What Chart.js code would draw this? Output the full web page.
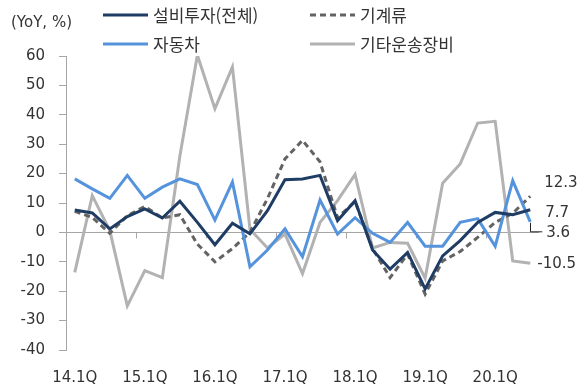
<!DOCTYPE html>
<html lang="ko">
<head>
<meta charset="UTF-8">
<title>설비투자 증가율</title>
<style>
  body { margin: 0; background: #fff; }
  canvas { display: block; }
</style>
</head>
<body>
<canvas id="chart" width="587" height="386"></canvas>
<script src="https://cdn.jsdelivr.net/npm/chart.js"></script>
<script>
// quarters 14.1Q .. 20.3Q
const quarters = ['14.1Q','14.2Q','14.3Q','14.4Q','15.1Q','15.2Q','15.3Q','15.4Q',
                  '16.1Q','16.2Q','16.3Q','16.4Q','17.1Q','17.2Q','17.3Q','17.4Q',
                  '18.1Q','18.2Q','18.3Q','18.4Q','19.1Q','19.2Q','19.3Q','19.4Q',
                  '20.1Q','20.2Q','20.3Q'];
const capex     = [7.6, 6.6, 1.2, 5.4, 8.0, 4.9, 10.6, 3.4, -4.2, 3.1, -0.5, 7.4, 17.9, 18.2,
                   19.4, 4.0, 10.8, -6.0, -12.5, -6.8, -19.2, -8.0, -2.8, 3.4, 6.8, 6.0, 7.7];
const machinery = [7.2, 5.1, -0.3, 5.7, 8.8, 4.9, 6.0, -4.0, -10.0, -5.5, 0.0, 11.5, 25.0, 31.3,
                   24.0, 5.0, 10.5, -5.5, -15.4, -7.4, -21.0, -9.7, -6.5, -1.7, 3.4, 6.5, 12.3];
const autos     = [18.2, 14.8, 11.6, 19.4, 11.6, 15.4, 18.2, 16.3, 4.2, 17.1, -11.7, -6.0, 1.2, -8.3,
                   11.0, -0.6, 5.0, -0.3, -3.4, 3.4, -4.7, -4.7, 3.4, 4.7, -4.7, 17.6, 3.6];
const otherTrans = [-13.6, 12.5, 0.6, -25.0, -13.0, -15.4, 26.0, 60.3, 42.1, 56.3, 1.1, -5.3, -0.6, -14.0,
                    3.4, 10.8, 19.7, -5.3, -3.4, -3.7, -15.6, 16.7, 23.3, 37.2, 37.8, -9.7, -10.5];
const yTicks = [60, 50, 40, 30, 20, 10, 0, -10, -20, -30, -40];

const NUM_FONT = 'DejaVu Sans, sans-serif';
const KR_FONT = '"Noto Sans CJK KR", "Noto Sans", sans-serif';

// legend, zero line and end labels drawn on the canvas
const decorations = {
    id: 'decorations',
    beforeDatasetsDraw(chart) {
        const { ctx, chartArea, scales } = chart;
        const y0 = scales.y.getPixelForValue(0);
        const w = (chartArea.right - chartArea.left) / quarters.length;
        ctx.save();
        ctx.strokeStyle = '#a6a6a6';
        ctx.lineWidth = 1;
        ctx.beginPath();
        ctx.moveTo(chartArea.left, Math.round(y0) + 0.5);
        ctx.lineTo(chartArea.right, Math.round(y0) + 0.5);
        for (let i = 4; i < quarters.length; i += 4) {
            const x = Math.round(chartArea.left + i * w) + 0.5;
            ctx.moveTo(x, y0);
            ctx.lineTo(x, y0 + 6);
        }
        ctx.stroke();
        ctx.restore();
    },
    afterDraw(chart) {
        const { ctx } = chart;
        ctx.save();
        ctx.fillStyle = '#333';
        ctx.textBaseline = 'middle';
        ctx.font = '15px ' + NUM_FONT;
        ctx.fillText('(YoY, %)', 11, 23);

        const legendPos = [[103, 15], [310, 15], [103, 44], [310, 44]];
        chart.data.datasets.forEach((ds, i) => {
            const [lx, ly] = legendPos[i];
            ctx.strokeStyle = ds.borderColor;
            ctx.lineWidth = 3;
            ctx.setLineDash(ds.borderDash || []);
            ctx.beginPath();
            ctx.moveTo(lx, ly);
            ctx.lineTo(lx + 45, ly);
            ctx.stroke();
            ctx.setLineDash([]);
            ctx.font = '17px ' + KR_FONT;
            ctx.fillStyle = '#333';
            ctx.fillText(ds.label, lx + 50, ly + 1);
        });

        // values of the last quarter
        const endOffsets = [[15, 3], [14, -13], [16, 11], [7, 1]];
        ctx.font = '15px ' + NUM_FONT;
        chart.data.datasets.forEach((ds, i) => {
            const meta = chart.getDatasetMeta(i);
            const pt = meta.data[meta.data.length - 1];
            const v = ds.data[ds.data.length - 1];
            const [dx, dy] = endOffsets[i];
            ctx.fillStyle = '#333';
            ctx.fillText(v.toFixed(1), pt.x + dx, pt.y + dy);
            if (i === 2) {
                ctx.strokeStyle = '#222';
                ctx.lineWidth = 1;
                ctx.beginPath();
                ctx.moveTo(Math.round(pt.x) + 0.5, pt.y + 1);
                ctx.lineTo(Math.round(pt.x) + 0.5, pt.y + dy - 1);
                ctx.lineTo(pt.x + dx - 4, pt.y + dy - 1);
                ctx.stroke();
            }
        });
        ctx.restore();
    }
};

new Chart(document.getElementById('chart'), {
    type: 'line',
    data: {
        labels: quarters,
        datasets: [
            { label: '설비투자(전체)', data: capex, borderColor: '#1f3c64', borderWidth: 3, order: 1 },
            { label: '기계류', data: machinery, borderColor: '#636363', borderWidth: 3, borderDash: [6, 4], order: 3 },
            { label: '자동차', data: autos, borderColor: '#5593dc', borderWidth: 3, order: 2 },
            { label: '기타운송장비', data: otherTrans, borderColor: '#b2b2b2', borderWidth: 3, order: 4 }
        ]
    },
    options: {
        responsive: false,
        devicePixelRatio: 1,
        animation: false,
        elements: { point: { radius: 0 }, line: { tension: 0, borderJoinStyle: 'miter' } },
        layout: { padding: { top: 56, right: 48, left: 0, bottom: 0 } },
        plugins: { legend: { display: false }, tooltip: { enabled: false } },
        scales: {
            x: {
                offset: true,
                grid: { display: false, drawTicks: false },
                border: { display: false },
                ticks: {
                    autoSkip: false,
                    maxRotation: 0,
                    padding: 19,
                    color: '#333',
                    font: { family: NUM_FONT, size: 15 },
                    callback: (v, i) => (i % 4 === 0 ? quarters[i] : '')
                },
                afterFit: (s) => { s.height = 36; }
            },
            y: {
                min: -40,
                max: 60,
                afterBuildTicks: (s) => { s.ticks = yTicks.map(v => ({ value: v })); },
                grid: { drawOnChartArea: false, tickLength: 7, color: '#a6a6a6' },
                border: { color: '#a6a6a6' },
                ticks: {
                    padding: 14,
                    color: '#333',
                    font: { family: NUM_FONT, size: 15 }
                },
                afterFit: (s) => { s.width = 66; }
            }
        }
    },
    plugins: [decorations]
});
</script>
</body>
</html>
